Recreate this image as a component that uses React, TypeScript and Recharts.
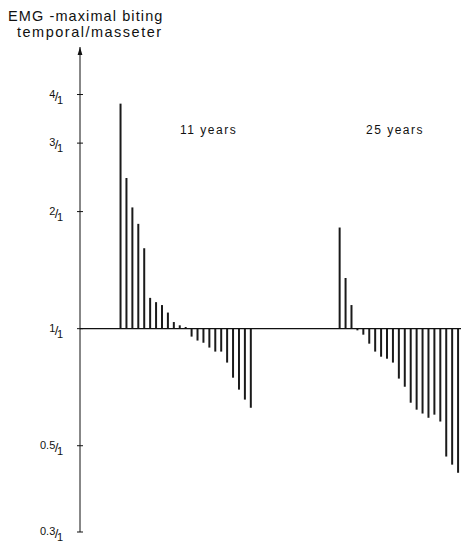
import React from 'react';
import { BarChart, Bar, XAxis, YAxis, ReferenceLine } from 'recharts';

// EMG ratio temporal/masseter during maximal biting, one line per subject
const years11 = [
  3.79, 2.44, 2.05, 1.86, 1.61, 1.2, 1.17, 1.15, 1.1, 1.04, 1.02, 1.01,
  0.954, 0.932, 0.92, 0.894, 0.873, 0.873, 0.818, 0.748, 0.697, 0.657, 0.626,
];
const years25 = [
  1.82, 1.35, 1.15, 0.99,
  0.965, 0.915, 0.873, 0.847, 0.837, 0.818, 0.744, 0.709, 0.645, 0.619, 0.605,
  0.59, 0.601, 0.577, 0.469, 0.447, 0.426,
];
const groupLabels = ['11 years', '25 years'];
const yTicks = [0.3, 0.5, 1, 2, 3, 4];
const yTickNumerators = ['0.3', '0.5', '1', '2', '3', '4'];

// empty slots before and between the two groups
const LEAD = 6;
const GAP = 14;
const TOTAL = 64;

const data: { id: number; v: number | null }[] = [];
const push = (v: number | null) => data.push({ id: data.length, v });
for (let i = 0; i < LEAD; i++) push(null);
years11.forEach((v) => push(v));
for (let i = 0; i < GAP; i++) push(null);
years25.forEach((v) => push(v));
while (data.length < TOTAL) push(null);

const ratioRange = (d: { v: number | null }) =>
  d.v == null ? null : [Math.min(1, d.v), Math.max(1, d.v)];

const FractionTick = (props: any) => {
  const { x, y, payload } = props;
  const num = yTickNumerators[yTicks.indexOf(payload.value)];
  return (
    <g fontFamily="'Liberation Sans', Arial, sans-serif" fill="#111">
      <line x1={x - 3} x2={x + 3} y1={y} y2={y} stroke="#111" strokeWidth={1} />
      <text x={x - 17} y={y + 3} textAnchor="end" fontSize={11}>
        <tspan>{num}</tspan>
        <tspan fontSize={13} dy={3} dx={-0.5}>/</tspan>
        <tspan dy={3} dx={-1.5}>1</tspan>
      </text>
    </g>
  );
};

export default function App() {
  return (
    <div style={{ position: 'absolute', left: 0, top: 0, width: 462, height: 544, background: '#fff' }}>
      <svg width={462} height={544} style={{ position: 'absolute', left: 0, top: 0, pointerEvents: 'none' }}
        fontFamily="'Liberation Sans', Arial, sans-serif" fill="#111">
        <defs>
          <marker id="axisArrow" viewBox="0 0 10 10" refX={10} refY={5} markerWidth={8} markerHeight={8}
            markerUnits="userSpaceOnUse" orient="auto-start-reverse">
            <path d="M0,2 L10,5 L0,8 z" fill="#111" />
          </marker>
        </defs>
        <text x={8} y={21} fontSize={14.5} letterSpacing={1.1}>EMG -maximal biting</text>
        <text x={17} y={37} fontSize={14.5} letterSpacing={1.5}>temporal/masseter</text>
        <text x={180} y={134} fontSize={12} letterSpacing={1.5}>{groupLabels[0]}</text>
        <text x={366} y={134} fontSize={12} letterSpacing={1.5}>{groupLabels[1]}</text>
      </svg>
      <BarChart width={462} height={544} data={data}
        margin={{ top: 47, right: 1, bottom: 12, left: 10 }} barCategoryGap={0}>
        <XAxis dataKey="id" type="category" hide padding={{ left: 2, right: 0 }} />
        <YAxis type="number" scale="log" domain={[0.3, 5.3]} allowDataOverflow ticks={yTicks}
          width={70} tickSize={0} tickMargin={0} tickLine={false} interval={0}
          axisLine={{ stroke: '#111', strokeWidth: 1, markerStart: 'url(#axisArrow)' }}
          tick={<FractionTick />} />
        <ReferenceLine y={1} stroke="#111" strokeWidth={1.2} />
        <Bar dataKey={ratioRange} barSize={2} fill="#1a1a1a" isAnimationActive={false} />
      </BarChart>
    </div>
  );
}
